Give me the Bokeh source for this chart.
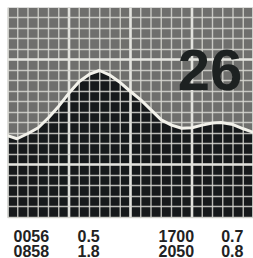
from bokeh.plotting import figure
from bokeh.models import Grid, FixedTicker, Label, Range1d
from bokeh.embed import file_html
from bokeh.resources import INLINE
from bokeh.core.properties import value

# Tide curve (hour of day, height in metres)
hours = [0, 0.93, 2, 3, 4, 5, 6, 7, 8, 8.97, 10, 11, 12, 13, 14, 15, 16, 17.0,
         18, 19, 20, 20.83, 22, 23, 24]
heights = [0.56, 0.50, 0.60, 0.71, 0.90, 1.12, 1.37, 1.59, 1.73, 1.80, 1.71, 1.57,
           1.40, 1.24, 1.05, 0.86, 0.76, 0.70, 0.71, 0.76, 0.80, 0.81, 0.77, 0.69, 0.62]

day_label = "26"
tide_times = [["0056", "0858"], ["1700", "2050"]]
tide_heights = [["0.5", "1.8"], ["0.7", "0.8"]]

x_major = [0, 6, 12, 18, 24]
x_minor = list(range(0, 25))
y_major = [0, 2]
y_minor = [-1.0, -0.8, -0.6, -0.4, -0.2, 0.0, 0.2, 0.4, 0.6, 0.8, 1.0, 1.2, 1.4,
           1.6, 1.8, 2.0, 2.2, 2.4, 2.6, 2.8, 3.0]

Y_LO, Y_HI = -1.0, 3.0
Y_TABLE = -1.781

p = figure(width=253, height=258, output_backend="svg", toolbar_location=None,
           x_range=Range1d(0, 24), y_range=Range1d(Y_TABLE, Y_HI),
           x_axis_location=None, y_axis_location=None,
           min_border_left=7, min_border_top=7, min_border_right=0,
           min_border_bottom=0, background_fill_color="white",
           border_fill_color="white", outline_line_color=None)
p.grid.visible = False

n = len(hours)
p.varea(x=hours, y1=heights, y2=[Y_HI] * n, fill_color="#6f6f6d", level="image")
p.varea(x=hours, y1=[Y_LO] * n, y2=heights, fill_color="#16191b", level="image")

# vertical grid lines, limited to the chart area
p.segment(x0=x_minor, y0=[Y_LO] * len(x_minor), x1=x_minor, y1=[Y_HI] * len(x_minor),
          line_color="#d8d8d2", line_width=1.4, line_alpha=0.85, level="underlay")
p.segment(x0=x_major, y0=[Y_LO] * len(x_major), x1=x_major, y1=[Y_HI] * len(x_major),
          line_color="#e6e6e0", line_width=2.6, line_alpha=0.95, level="underlay")

# horizontal grid lines
p.add_layout(Grid(dimension=1, ticker=FixedTicker(ticks=y_major, minor_ticks=y_minor),
                  grid_line_color="#e6e6e0", grid_line_width=2.6, grid_line_alpha=0.95,
                  minor_grid_line_color="#d8d8d2", minor_grid_line_width=1.4,
                  minor_grid_line_alpha=0.85))

p.line(hours, heights, line_color="#f2f1ea", line_width=3)

p.add_layout(Label(x=22.9, y=1.8, text=day_label, text_align="right",
                   text_baseline="alphabetic", text_font="Liberation Sans",
                   text_font_style="bold", text_font_size="58px",
                   text_color="#1d2121"))

col_x = [[0.585, 6.83], [14.73, 20.85]]
row_y = [-1.352, -1.629]
xs, ys, txt = [], [], []
for g in range(2):
    for r in range(2):
        xs += [col_x[g][0], col_x[g][1]]
        ys += [row_y[r], row_y[r]]
        txt += [tide_times[g][r], tide_heights[g][r]]
p.text(x=xs, y=ys, text=txt, text_font=value("Liberation Sans"),
       text_font_style="bold", text_font_size="16px", text_color="#222222",
       text_baseline="alphabetic", text_align="left")

open("out.html", "w").write(file_html(p, INLINE))
